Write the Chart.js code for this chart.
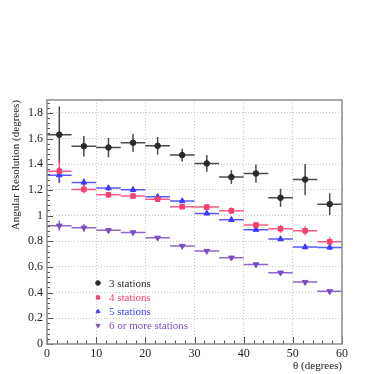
<!DOCTYPE html>
<html>
<head>
<meta charset="utf-8">
<script src="https://cdn.jsdelivr.net/npm/chart.js@4.4.0/dist/chart.umd.min.js"></script>
<style>
  body { margin: 0; background: #fff; }
</style>
</head>
<body>
<canvas id="resChart" width="374" height="374"></canvas>
<script>
// theta bins, 5 degrees wide
var binCenters = [2.5, 7.5, 12.5, 17.5, 22.5, 27.5, 32.5, 37.5, 42.5, 47.5, 52.5, 57.5];
var binHalf = 2.5;

// angular resolution per number of stations (degrees)
var res3 = [1.63, 1.54, 1.53, 1.567, 1.543, 1.471, 1.406, 1.30, 1.328, 1.139, 1.281, 1.089];
var err3 = [0.22, 0.08, 0.075, 0.07, 0.068, 0.05, 0.065, 0.055, 0.07, 0.07, 0.12, 0.085];

var res4 = [1.346, 1.204, 1.162, 1.152, 1.128, 1.069, 1.066, 1.037, 0.926, 0.897, 0.882, 0.796];
var err4 = [0.09, 0.03, 0.022, 0.02, 0.02, 0.018, 0.022, 0.025, 0.025, 0.03, 0.035, 0.035];

var res5 = [1.315, 1.258, 1.214, 1.201, 1.146, 1.113, 1.017, 0.967, 0.890, 0.817, 0.755, 0.752];
var err5 = [0.06, 0.03, 0.022, 0.02, 0.018, 0.017, 0.014, 0.014, 0.012, 0.015, 0.02, 0.02];

var res6 = [0.921, 0.905, 0.885, 0.869, 0.827, 0.763, 0.724, 0.672, 0.620, 0.555, 0.482, 0.410];
var err6 = [0.04, 0.03, 0.018, 0.015, 0.012, 0.01, 0.01, 0.01, 0.009, 0.009, 0.008, 0.008];

var xTicks = [0, 10, 20, 30, 40, 50, 60];
var yTicks = [0, 0.2, 0.4, 0.6, 0.8, 1, 1.2, 1.4, 1.6, 1.8];

var seriesNames = ['3 stations', '4 stations', '5 stations', '6 or more stations'];
var seriesColors = ['#2a2a2a', '#f5406c', '#3c3cff', '#7c4dc2'];

function points(vals) {
  return binCenters.map(function (x, i) { return { x: x, y: vals[i] }; });
}

var serif = '"Liberation Serif", "DejaVu Serif", serif';

// horizontal bin bars and vertical error bars
var errorBars = {
  id: 'errorBars',
  beforeDatasetsDraw: function (chart) {
    var ctx = chart.ctx, xs = chart.scales.x, ys = chart.scales.y, a = chart.chartArea;
    ctx.save();
    ctx.beginPath();
    ctx.rect(a.left, a.top, a.right - a.left, a.bottom - a.top);
    ctx.clip();
    chart.data.datasets.forEach(function (ds) {
      ctx.strokeStyle = ds.borderColor;
      ctx.globalAlpha = 0.85;
      ctx.lineWidth = 1.5;
      ds.data.forEach(function (p, i) {
        var px = xs.getPixelForValue(p.x), py = ys.getPixelForValue(p.y);
        ctx.beginPath();
        ctx.moveTo(xs.getPixelForValue(p.x - binHalf), py);
        ctx.lineTo(xs.getPixelForValue(p.x + binHalf), py);
        ctx.moveTo(px, ys.getPixelForValue(p.y + ds.errY[i]));
        ctx.lineTo(px, ys.getPixelForValue(p.y - ds.errY[i]));
        ctx.stroke();
      });
    });
    ctx.restore();
  }
};

// frame, inner ticks, axis titles, legend
var decorations = {
  id: 'decorations',
  afterDraw: function (chart) {
    var ctx = chart.ctx, xs = chart.scales.x, ys = chart.scales.y, a = chart.chartArea;
    ctx.save();
    ctx.strokeStyle = '#555';
    ctx.lineWidth = 1;
    var v, p, len;
    for (v = 0; v <= 1.9001; v += 0.04) {
      p = Math.round(ys.getPixelForValue(v)) + 0.5;
      len = (Math.abs(v / 0.2 - Math.round(v / 0.2)) < 1e-6) ? 6 : 3;
      ctx.beginPath(); ctx.moveTo(a.left, p); ctx.lineTo(a.left + len, p); ctx.stroke();
    }
    for (v = 0; v <= 60; v += 2) {
      p = Math.round(xs.getPixelForValue(v)) + 0.5;
      len = (v % 10 === 0) ? 7 : 3.5;
      ctx.beginPath(); ctx.moveTo(p, a.bottom); ctx.lineTo(p, a.bottom - len); ctx.stroke();
    }
    ctx.strokeStyle = '#8a8a8a';
    ctx.lineWidth = 1.5;
    ctx.strokeRect(a.left, a.top, a.right - a.left, a.bottom - a.top);

    ctx.fillStyle = '#222';
    ctx.font = '11px ' + serif;
    ctx.textAlign = 'right';
    ctx.textBaseline = 'middle';
    ctx.fillText('\u03b8 (degrees)', a.right, 366);
    ctx.translate(16, a.top);
    ctx.rotate(-Math.PI / 2);
    ctx.fillText('Angular Resolution (degrees)', 0, 0);
    ctx.restore();

    // legend
    ctx.save();
    var rows = [283, 297.5, 311.5, 325.5];
    ctx.font = '11px ' + serif;
    ctx.textAlign = 'left';
    ctx.textBaseline = 'middle';
    chart.data.datasets.forEach(function (ds, i) {
      ctx.fillStyle = ds.backgroundColor;
      ctx.strokeStyle = ds.borderColor;
      Chart.helpers.drawPoint(ctx, {
        pointStyle: ds.pointStyle, rotation: ds.pointRotation || 0,
        radius: 2.3, borderWidth: 1
      }, 98, rows[i]);
      ctx.fillStyle = ds.borderColor;
      ctx.fillText(seriesNames[i], 109, rows[i] + 1);
    });
    ctx.restore();
  }
};

function makeSet(i, vals, errs, style, radius, rot) {
  return {
    label: seriesNames[i],
    data: points(vals),
    errY: errs,
    borderColor: seriesColors[i],
    backgroundColor: seriesColors[i],
    pointStyle: style,
    pointRadius: radius,
    pointRotation: rot || 0,
    pointBorderWidth: 1,
    showLine: false
  };
}

new Chart(document.getElementById('resChart'), {
  type: 'scatter',
  data: {
    datasets: [
      makeSet(0, res3, err3, 'circle', 2.8),
      makeSet(1, res4, err4, 'rect', 3.2),
      makeSet(2, res5, err5, 'triangle', 3.3),
      makeSet(3, res6, err6, 'triangle', 3.3, 180)
    ]
  },
  plugins: [errorBars, decorations],
  options: {
    responsive: false,
    animation: false,
    layout: { padding: { left: 0, top: 100, right: 32, bottom: 0 } },
    plugins: { legend: { display: false }, tooltip: { enabled: false } },
    scales: {
      x: {
        type: 'linear', min: 0, max: 60,
        afterFit: function (s) { s.height = 30; },
        afterBuildTicks: function (s) {
          s.ticks = xTicks.map(function (v) { return { value: v }; });
        },
        ticks: { padding: 3, color: '#222', font: { family: serif, size: 12 } },
        grid: {
          drawTicks: false,
          color: function (c) { return (c.tick.value > 0 && c.tick.value < 60) ? '#c8c8c8' : 'rgba(0,0,0,0)'; }
        },
        border: { display: false, dash: [1, 2] }
      },
      y: {
        type: 'linear', min: 0, max: 1.9,
        afterFit: function (s) { s.width = 47; },
        afterBuildTicks: function (s) {
          s.ticks = yTicks.map(function (v) { return { value: v }; });
        },
        ticks: {
          padding: 4, color: '#222', font: { family: serif, size: 12 },
          callback: function (v) { return String(+v.toFixed(2)); }
        },
        grid: {
          drawTicks: false,
          color: function (c) { return c.tick.value > 0 ? '#c8c8c8' : 'rgba(0,0,0,0)'; }
        },
        border: { display: false, dash: [1, 2] }
      }
    }
  }
});
</script>
</body>
</html>
